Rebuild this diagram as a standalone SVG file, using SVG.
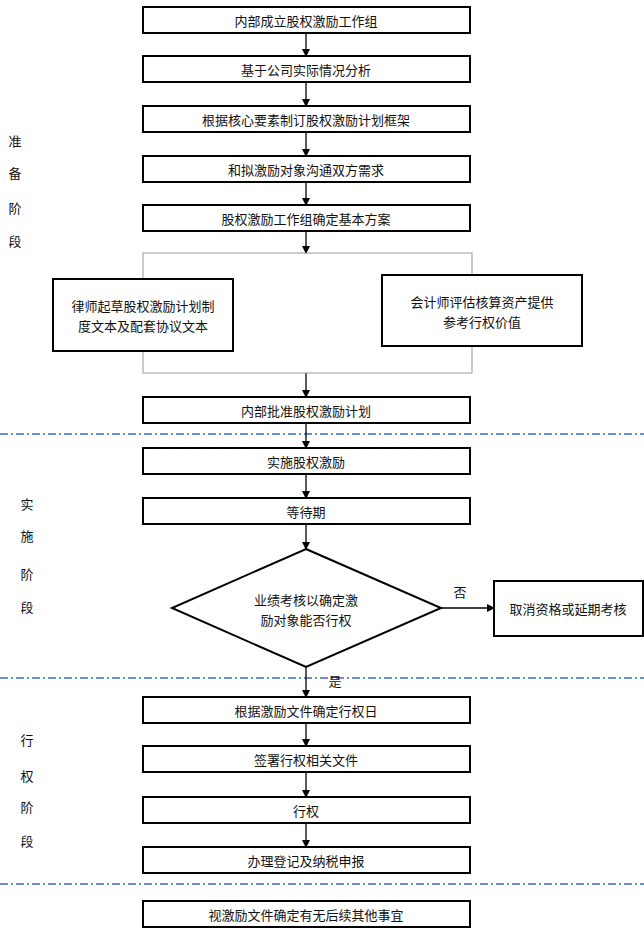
<svg xmlns="http://www.w3.org/2000/svg" width="644" height="931" viewBox="0 0 644 931">
<style>
.b{fill:#fff;stroke:#000;stroke-width:2}
.t{font-family:"Noto Sans CJK SC",sans-serif;font-size:13px;fill:#111;text-anchor:middle;dominant-baseline:central}
.s{font-family:"Noto Sans CJK SC",sans-serif;font-size:13px;fill:#111;text-anchor:middle;dominant-baseline:central}
.c{stroke:#000;stroke-width:1.3;fill:none;marker-end:url(#a)}
.d{stroke:#3a6fc4;stroke-width:1.3;stroke-dasharray:8,3,2,3}
</style>
<defs><marker id="a" markerWidth="8" markerHeight="8" refX="7" refY="4" orient="auto" markerUnits="userSpaceOnUse"><path d="M0,0L8,4L0,8z" fill="#000"/></marker></defs>
<rect width="644" height="931" fill="#fff"/>
<g id="dividers">
<line class="d" x1="0" y1="434" x2="644" y2="434"/>
<line class="d" x1="0" y1="678" x2="644" y2="678"/>
<line class="d" x1="0" y1="884" x2="644" y2="884"/>
</g>
<g id="phases">
<text class="s" x="15" y="140">准</text><text class="s" x="15" y="172">备</text><text class="s" x="15" y="207">阶</text><text class="s" x="15" y="240">段</text>
<text class="s" x="27" y="503">实</text><text class="s" x="27" y="535">施</text><text class="s" x="27" y="573">阶</text><text class="s" x="27" y="606">段</text>
<text class="s" x="27" y="739">行</text><text class="s" x="27" y="775">权</text><text class="s" x="27" y="806">阶</text><text class="s" x="27" y="840">段</text>
</g>
<g id="connectors">
<line class="c" x1="306" y1="33" x2="306" y2="56"/>
<line class="c" x1="306" y1="82" x2="306" y2="106"/>
<line class="c" x1="306" y1="132" x2="306" y2="156"/>
<line class="c" x1="306" y1="182" x2="306" y2="205"/>
<line class="c" x1="306" y1="231" x2="306" y2="253"/>
<line class="c" x1="306" y1="373" x2="306" y2="397"/>
<line class="c" x1="306" y1="423" x2="306" y2="448"/>
<line class="c" x1="306" y1="474" x2="306" y2="498"/>
<line class="c" x1="306" y1="524" x2="306" y2="549"/>
<line class="c" x1="441" y1="608" x2="494" y2="608"/>
<line class="c" x1="306" y1="667" x2="306" y2="697"/>
<line class="c" x1="306" y1="723" x2="306" y2="746"/>
<line class="c" x1="306" y1="772" x2="306" y2="797"/>
<line class="c" x1="306" y1="823" x2="306" y2="847"/>
<text class="s" x="460" y="591">否</text>
<text class="s" x="335" y="680">是</text>
</g>
<g id="n1"><rect class="b" x="143" y="7" width="327" height="26"/><text class="t" x="306" y="20">内部成立股权激励工作组</text></g>
<g id="n2"><rect class="b" x="143" y="56" width="327" height="26"/><text class="t" x="306" y="69">基于公司实际情况分析</text></g>
<g id="n3"><rect class="b" x="143" y="106" width="327" height="26"/><text class="t" x="306" y="119">根据核心要素制订股权激励计划框架</text></g>
<g id="n4"><rect class="b" x="143" y="156" width="327" height="26"/><text class="t" x="306" y="169">和拟激励对象沟通双方需求</text></g>
<g id="n5"><rect class="b" x="143" y="205" width="327" height="26"/><text class="t" x="306" y="218">股权激励工作组确定基本方案</text></g>
<g id="frame"><rect x="143" y="253" width="329" height="120" fill="none" stroke="#999" stroke-width="1"/></g>
<g id="n6"><rect class="b" x="53" y="279" width="180" height="72"/><text class="t" x="143" y="305">律师起草股权激励计划制</text><text class="t" x="143" y="325">度文本及配套协议文本</text></g>
<g id="n7"><rect class="b" x="382" y="275" width="200" height="71"/><text class="t" x="482" y="301">会计师评估核算资产提供</text><text class="t" x="482" y="321">参考行权价值</text></g>
<g id="n8"><rect class="b" x="143" y="397" width="327" height="26"/><text class="t" x="306" y="410">内部批准股权激励计划</text></g>
<g id="n9"><rect class="b" x="143" y="448" width="327" height="26"/><text class="t" x="306" y="461">实施股权激励</text></g>
<g id="n10"><rect class="b" x="143" y="498" width="327" height="26"/><text class="t" x="306" y="511">等待期</text></g>
<g id="n11"><polygon class="b" points="306,549 441,608 306,667 172,608"/><text class="t" x="306" y="599">业绩考核以确定激</text><text class="t" x="306" y="619">励对象能否行权</text></g>
<g id="n12"><rect class="b" x="494" y="581" width="149" height="55"/><text class="t" x="568" y="608">取消资格或延期考核</text></g>
<g id="n13"><rect class="b" x="143" y="697" width="327" height="26"/><text class="t" x="306" y="710">根据激励文件确定行权日</text></g>
<g id="n14"><rect class="b" x="143" y="746" width="327" height="26"/><text class="t" x="306" y="759">签署行权相关文件</text></g>
<g id="n15"><rect class="b" x="143" y="797" width="327" height="26"/><text class="t" x="306" y="810">行权</text></g>
<g id="n16"><rect class="b" x="143" y="847" width="327" height="26"/><text class="t" x="306" y="860">办理登记及纳税申报</text></g>
<g id="n17"><rect class="b" x="143" y="901" width="327" height="26"/><text class="t" x="306" y="914">视激励文件确定有无后续其他事宜</text></g>
</svg>
